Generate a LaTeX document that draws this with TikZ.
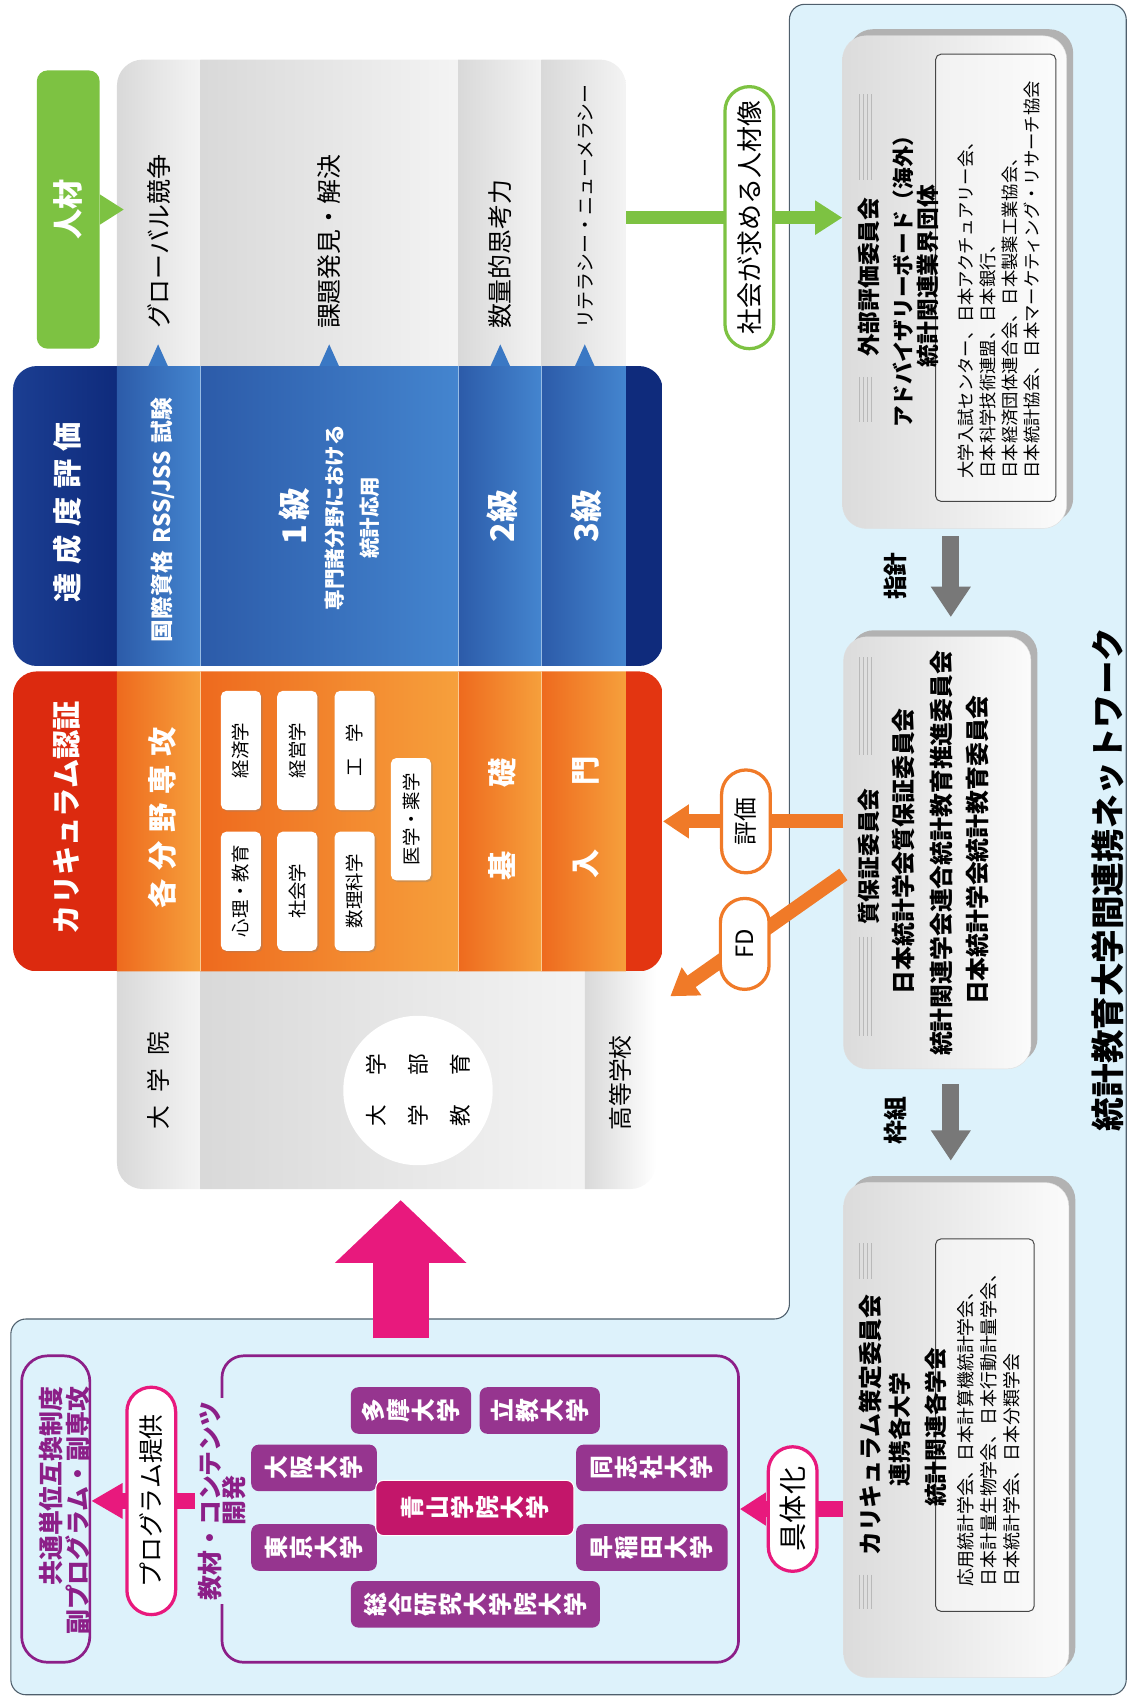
\documentclass[tikz,border=0pt]{standalone}
\usepackage{fontspec}
\setmainfont{Noto Sans CJK JP}
\usetikzlibrary{positioning,arrows.meta,shapes.misc,shadows}
\definecolor{jgreen}{HTML}{7DC242}
\definecolor{navyl}{HTML}{1B3E92}
\definecolor{navyr}{HTML}{0F2B7C}
\definecolor{blueL}{HTML}{2C5BA9}
\definecolor{blueR}{HTML}{4485CF}
\definecolor{tri}{HTML}{3A78C4}
\definecolor{redc}{HTML}{DC2A0F}
\definecolor{redr}{HTML}{E33511}
\definecolor{orL}{HTML}{EE6A1E}
\definecolor{orR}{HTML}{F6A03C}
\definecolor{orc}{HTML}{F07A28}
\definecolor{panel}{HTML}{DDF2FB}
\definecolor{panelline}{HTML}{4F5F6C}
\definecolor{upurple}{HTML}{96358F}
\definecolor{framep}{HTML}{8C1F88}
\definecolor{jpink}{HTML}{E8197D}
\definecolor{aoyamac}{HTML}{C3166A}
\definecolor{darrow}{HTML}{787878}
\newcommand{\fsz}[2]{\fontsize{#1}{#2}\selectfont}

\begin{document}
\begin{tikzpicture}[x=1pt,y=1pt,
    vt/.style={rotate=90,inner sep=0pt},
    bt/.style={vt,font=\fsz{#1}{#1}},
    bbt/.style={vt,font=\bfseries\fsz{#1}{#1}},
    wt/.style={vt,text=white,font=\bfseries\fsz{#1}{#1}},
    subj/.style={rotate=90,fill=white,rounded corners=5pt,inner sep=0pt,minimum width=110pt,minimum height=37pt,font=\fsz{17}{17},drop shadow={shadow xshift=1.5pt,shadow yshift=-1.5pt,opacity=0.3}},
    combox/.style={rounded corners=22pt,left color=gray!28,right color=gray!3,draw=gray!25,drop shadow={shadow xshift=6pt,shadow yshift=6pt,fill=gray!60,opacity=1}},
    inbox/.style={draw=gray!55!black,line width=0.9pt,rounded corners=5pt,fill=white,fill opacity=0.4},
    decoline/.style={gray!55,line width=0.7pt},
    uni/.style={rotate=90,fill=upurple,rounded corners=7pt,text=white,font=\bfseries\fsz{22}{23},align=center,inner sep=0pt,minimum width=43pt},
    pill/.style={rounded rectangle,rotate=90,fill=white,text=black,line width=3pt,inner sep=0pt,minimum height=45pt,font=\fsz{#1}{#1}},
    greenarrow/.style={jgreen,line width=12pt,-{Triangle[width=30pt,length=25pt]}},
    orarrow/.style={orc,line width=13pt,-{Triangle[width=30pt,length=24pt]}},
    pinkarrow/.style={jpink,line width=14pt,-{Triangle[width=29pt,length=24pt]}},
    grayarrow/.style={darrow,line width=16pt,-{Triangle[width=35pt,length=28pt]}}]
\useasboundingbox (0,0) rectangle (1047,-1568);

% light blue panel
\draw[panelline,fill=panel,line width=1pt,rounded corners=14pt] (10,-1218) -- (729,-1218) -- (729,-4) -- (1040,-4) -- (1040,-1565) -- (10,-1565) -- cycle;

% gray table
\begin{scope}
  \clip[rounded corners=24pt] (108,-55) rectangle (578,-420);
  \foreach \p/\q in {108/185,185/423,423/500,500/578}
    \shade[left color=gray!30,right color=gray!9] (\p,-55) rectangle (\q,-420);
\end{scope}
\begin{scope}
  \clip[rounded corners=24pt] (108,-850) rectangle (606,-1098);
  \foreach \p/\q in {108/185,185/540}
    \shade[left color=gray!30,right color=gray!9] (\p,-850) rectangle (\q,-1098);
  \shade[left color=gray!30,right color=white] (540,-850) rectangle (606,-1098);
\end{scope}
\node[inner sep=0pt,minimum width=470pt,minimum height=274pt] (skills) at (343,-201) {};
\node[inner sep=0pt,minimum width=498pt,minimum height=201pt] (daigaku) at (357,-997.5) {};
\foreach \x in {146,304,462,540}
  \fill[tri] (\x-9,-338) -- (\x,-318) -- (\x+9,-338) -- cycle;

% blue block
\node[inner sep=0pt,minimum width=600pt,minimum height=277pt] (tassei) at (312,-476.5) {};
\begin{scope}
  \clip[rounded corners=22pt] (12,-338) rectangle (612,-615);
  \shade[left color=navyl,right color=navyr] (12,-338) rectangle (108,-615);
  \fill[navyr] (578,-338) rectangle (612,-615);
  \foreach \p/\q in {108/185,185/423,423/500,500/578}
    \shade[left color=blueL,right color=blueR] (\p,-338) rectangle (\q,-615);
  \foreach \p in {185,423,500}
    \draw[white!45!blueR,line width=0.6pt] (\p,-338) -- (\p,-615);
\end{scope}

% orange block
\node[inner sep=0pt,minimum width=600pt,minimum height=277pt] (nintei) at (312,-758.5) {};
\begin{scope}
  \clip[rounded corners=22pt] (12,-620) rectangle (612,-897);
  \fill[redc] (12,-620) rectangle (108,-897);
  \fill[redr] (578,-620) rectangle (612,-897);
  \foreach \p/\q in {108/185,185/423,423/500,500/578}
    \shade[left color=orL,right color=orR] (\p,-620) rectangle (\q,-897);
  \foreach \p in {185,423,500}
    \draw[white!45!orR,line width=0.6pt] (\p,-620) -- (\p,-897);
\end{scope}

% jinzai
\node[rotate=90,fill=jgreen,rounded corners=10pt,minimum width=257pt,minimum height=58pt,text=white,font=\bfseries\fsz{28}{28}] (jinzai) at (63,-193.5) {人材};
\fill[jgreen] ([yshift=14pt]jinzai.south) -- ++(22,-14) -- ++(-22,-14) -- cycle;
\node[bt=23,anchor=west] (global) at (147,-304) {グローバル競争};
\node[bt=23,anchor=west] (kadai) at (304,-304) {課題発見・解決};
\node[bt=23,anchor=west] (suryo) at (462,-304) {数量的思考力};
\node[bt=17.5,anchor=west] (literacy) at (541,-304) {リテラシー・ニューメラシー};

\node[wt=27] (tasseilbl) at (62,-473) {達\hspace{8pt}成\hspace{8pt}度\hspace{8pt}評\hspace{8pt}価};
\node[wt=21] (rss) at (150,-480) {国際資格\hspace{7pt}RSS/JSS\hspace{7pt}試験};
\node[wt=30] (kyu1) at (272,-477) {1\hspace{4pt}級};
\node[wt=19] (senmon) at (309,-478) {専門諸分野における};
\node[wt=19] (oyo) at (341,-478) {統計応用};
\node[wt=30] (kyu2) at (464,-477) {2級};
\node[wt=30] (kyu3) at (541,-477) {3級};

\node[wt=27] (ninteilbl) at (62,-755) {カリキュラム認証};
\node[wt=27] (senko) at (150,-755) {各\hspace{8pt}分\hspace{8pt}野\hspace{8pt}専\hspace{8pt}攻};
\node[subj] (keizai) at (222.5,-693) {経済学};
\node[subj] (shinri) at (222.5,-823) {心理・教育};
\node[subj] (keiei) at (274.5,-693) {経営学};
\node[subj] (shakai) at (274.5,-823) {社会学};
\node[subj] (kogaku) at (327.5,-693) {工\hspace{14pt}学};
\node[subj] (suri) at (327.5,-823) {数理科学};
\node[subj,minimum width=113pt] (igaku) at (379.5,-756.5) {医学・薬学};
\node[wt=27] (kiso) at (464,-757) {基\hspace{59pt}礎};
\node[wt=27] (nyumon) at (541,-755) {入\hspace{59pt}門};

\node[bt=22] (daigakuin) at (146,-998) {大\hspace{12pt}学\hspace{12pt}院};
\node[bt=22] (koko) at (573,-1000) {高等学校};
\node[circle,fill=white,rotate=90,minimum size=138pt,inner sep=0pt,align=center,font=\fsz{20}{39}] (gakubu) at (386,-1007) {大\hspace{27pt}学\\学\hspace{27pt}部\\教\hspace{27pt}育};

% committees
\node[combox,minimum width=207pt,minimum height=455pt] (gaibu) at (881.5,-260.5) {};
\node[combox,minimum width=173pt,minimum height=399pt] (shitsu) at (865.5,-787.5) {};
\node[combox,minimum width=208pt,minimum height=457pt] (sakutei) at (883,-1320.5) {};
\node[inbox,minimum width=111pt,minimum height=413pt] (gaibulist) at (919.5,-256.5) {};
\node[inbox,minimum width=91pt,minimum height=344pt] (sakuteilist) at (909.5,-1316) {};
\foreach \p/\q in {87/166,348/390,607/697,865/957,1148/1181,1454/1486}
  \foreach \dx in {0,3.5,7,10.5}
    \draw[decoline] (794+\dx,-\p) -- (794+\dx,-\q);

\node[bbt=21] (gaibulbl) at (802,-256) {外部評価委員会};
\node[bbt=20] (advisory) at (834,-255) {アドバイザリーボード（海外）};
\node[bbt=21] (gyokai) at (857,-255) {統計関連業界団体};
\node[vt,align=left,anchor=north west,font=\fsz{16}{20.3}] (gaibuorgs) at (884,-442) {大学入試センター、日本アクチュアリー会、\\日本科学技術連盟、日本銀行、\\日本経済団体連合会、日本製薬工業協会、\\日本統計協会、日本マーケティング・リサーチ協会};

\node[bbt=21] (shitsulbl) at (802,-791) {質保証委員会};
\node[bbt=22] (jss) at (834,-786) {日本統計学会質保証委員会};
\node[bbt=22] (rengo) at (869,-788) {統計関連学会連合統計教育推進委員会};
\node[bbt=22] (kyoiku) at (903,-785) {日本統計学会統計教育委員会};

\node[bbt=22] (sakuteilbl) at (804,-1316) {カリキュラム策定委員会};
\node[bbt=21] (kakudai) at (831,-1320) {連携各大学};
\node[bbt=21] (kakugakkai) at (864,-1318) {統計関連各学会};
\node[vt,align=left,anchor=north west,font=\fsz{16.5}{21}] (sakuteiorgs) at (884,-1465) {応用統計学会、日本計算機統計学会、\\日本計量生物学会、日本行動計量学会、\\日本統計学会、日本分類学会};

% arrows between committees
\draw[grayarrow,shorten <=7pt,shorten >=18pt] ([xshift=-3.5pt]gaibu.south) -- ([xshift=-3.5pt]gaibu.south |- shitsu.north);
\node[bbt=22] (shishin) at (827,-532) {指針};
\draw[grayarrow,shorten <=14pt,shorten >=20pt] ([xshift=12.5pt]shitsu.south) -- ([xshift=12.5pt]shitsu.south |- sakutei.north);
\node[bbt=22] (wakugumi) at (827,-1035) {枠組};

\draw[greenarrow] (skills.east) -- (skills.east -| gaibu.west) node[pos=0.57,pill=24,draw=jgreen,minimum width=242pt] (motomeru) {社会が求める人材像};
\draw[orarrow] (nintei.east -| shitsu.west) -- (nintei.east) node[pos=0.54,pill=22,draw=orc,minimum width=95pt] (hyoka) {評価};
\coordinate (fdtip) at (619,-920);
\draw[orarrow] ([yshift=-20pt]shitsu.west) -- (fdtip) node[pos=0.57,pill=22,draw=orc,minimum width=84pt] (fd) {FD};

% university network
\node[draw=framep,line width=2.5pt,rounded corners=20pt,minimum width=477pt,minimum height=283pt] (renkei) at (443.5,-1393.5) {};
\node[vt,fill=panel,inner sep=3pt,align=center,text=framep,font=\bfseries\fsz{23}{22}] (kyozai) at (205,-1386) {教材・コンテンツ\\開発};
\node[draw=framep,line width=2.5pt,rounded corners=24pt,minimum width=63pt,minimum height=283pt] (kyotsu) at (51.5,-1393.5) {};
\node[vt,align=right,text=framep,font=\bfseries\fsz{23}{25}] (kyotsulbl) at (59.5,-1395) {共通単位互換制度\\副プログラム・副専攻};
\draw[pinkarrow,-{Triangle[width=31pt,length=29pt]}] (kyozai.north) -- (kyozai.north -| kyotsu.east) node[pos=0.42,pill=23,draw=jpink,minimum width=210pt] (program) {プログラム提供};
\draw[pinkarrow] (renkei.east -| sakutei.west) -- (renkei.east) node[pos=0.49,pill=26,draw=jpink,minimum width=115pt] (gutaika) {具体化};
\coordinate (bigtail) at (370,-1236);
\draw[jpink,line width=52pt,-{Triangle[width=118pt,length=58pt]},shorten >=10pt] (bigtail) -- (bigtail |- daigaku.south);

\node[uni,minimum height=111pt] (tama) at (379.5,-1302.5) {多\\摩\\大\\学};
\node[uni,minimum height=111pt] (rikkyo) at (498.5,-1302.5) {立\\教\\大\\学};
\node[uni,minimum height=116pt] (osaka) at (290,-1355.5) {大\\阪\\大\\学};
\node[uni,minimum height=116pt] (todai) at (290,-1429) {東\\京\\大\\学};
\node[uni,minimum height=140pt] (doshisha) at (602,-1355.5) {同\\志\\社\\大\\学};
\node[uni,minimum height=140pt] (waseda) at (602,-1429) {早\\稲\\田\\大\\学};
\node[uni,minimum height=230pt] (soken) at (439,-1481.5) {総\\合\\研\\究\\大\\学\\院\\大\\学};
\node[uni,fill=aoyamac,draw=white,line width=1pt,minimum width=51pt,minimum height=183pt] (aoyama) at (438.5,-1392.5) {青\\山\\学\\院\\大\\学};

% title
\node[bbt=31] (title) at (1023,-812) {統計教育大学間連携ネットワーク};
\end{tikzpicture}
\end{document}
